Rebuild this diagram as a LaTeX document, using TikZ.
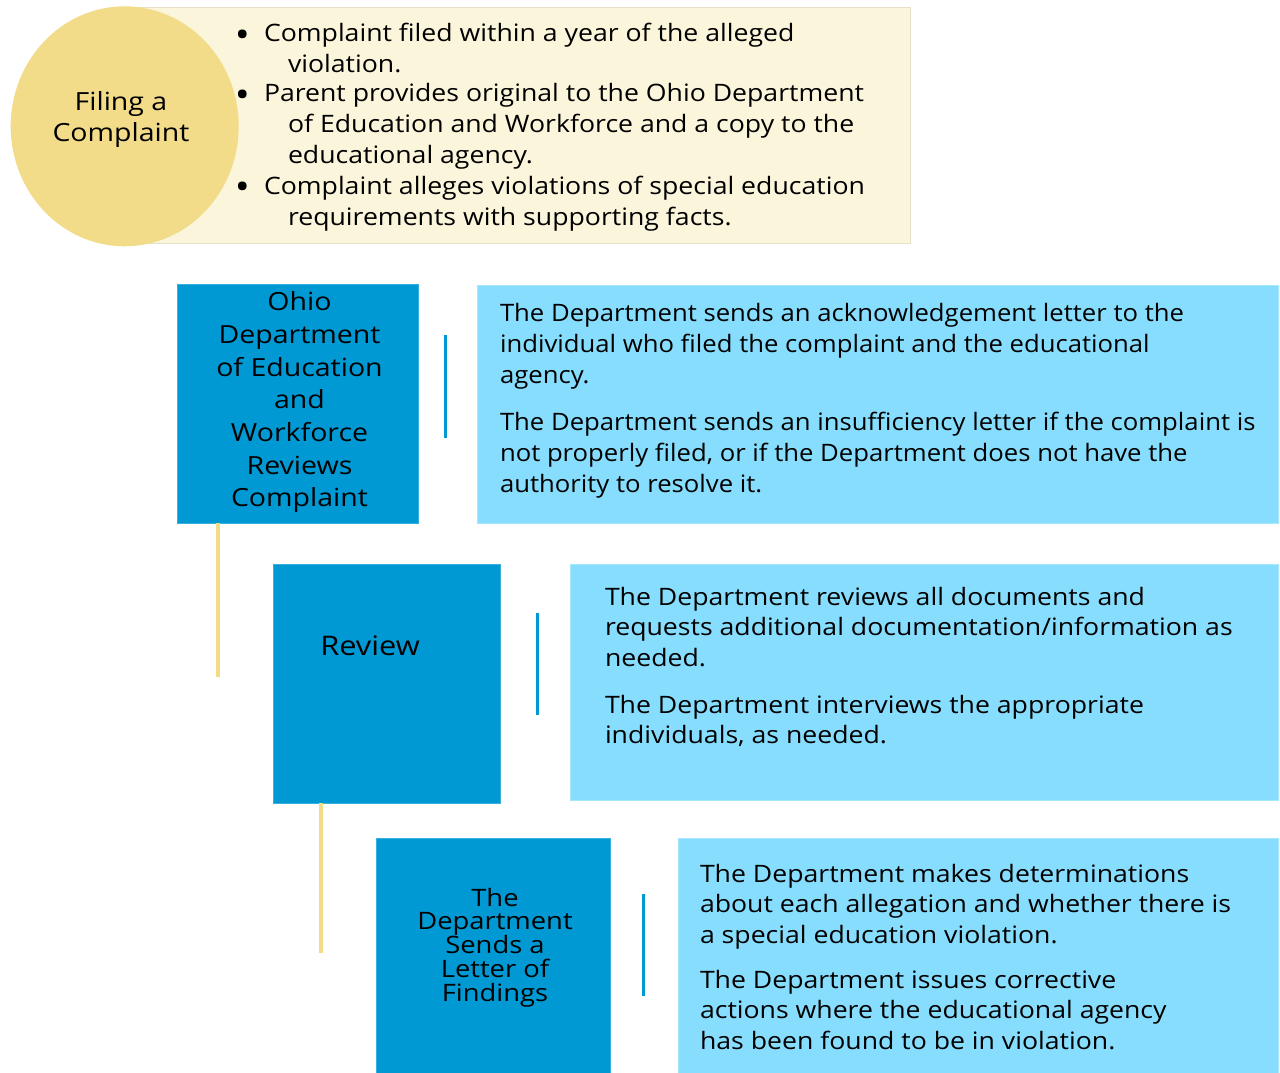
\documentclass[tikz,border=0pt]{standalone}
\usepackage{fontspec}
\setmainfont{Open Sans}
\newfontfamily\fA[FakeStretch=1.07]{Open Sans}
\newfontfamily\fB[FakeStretch=1.11]{Open Sans}
\newfontfamily\fC[FakeStretch=1.14]{Open Sans}
\usetikzlibrary{shapes.geometric}
\definecolor{cream}{HTML}{FBF5DB}
\definecolor{creamedge}{HTML}{E6E0C8}
\definecolor{gold}{HTML}{F2DC89}
\definecolor{darkblue}{HTML}{0099D4}
\definecolor{darkedge}{HTML}{3AAEDC}
\definecolor{lightblue}{HTML}{87DDFD}
\definecolor{lightedge}{HTML}{A8E6FD}
\definecolor{yline}{HTML}{F3DC86}
\newcommand{\fl}{\rule{0pt}{12pt}}
\newcommand{\ind}{\hspace*{12pt}}
\newcommand{\bul}{\makebox[0pt][r]{\raisebox{-2.8pt}{\scalebox{1.5}{•}}\hspace{7pt}}}
\lineskiplimit=-16000pt
\lineskip=0pt
\begin{document}
\begin{tikzpicture}[x=0.5pt,y=-0.5pt,
  boxbase/.style={inner sep=0pt, outer sep=0pt, anchor=north west, line width=0.5pt},
  creambox/.style={boxbase, fill=cream, draw=creamedge},
  goldcirc/.style={ellipse, inner sep=0pt, fill=gold, draw=none},
  darkbox/.style={boxbase, fill=darkblue, draw=darkedge},
  lightbox/.style={boxbase, fill=lightblue, draw=lightedge},
  para/.style={inner sep=0pt, outer sep=0pt, anchor=north west, align=left,
    font=\fontsize{12pt}{15.4pt}\fA},
  parab/.style={para, font=\fontsize{12pt}{15.3pt}\fB},
  title/.style={inner sep=0pt, outer sep=0pt, anchor=north, align=center},
  goldline/.style={draw=yline, line width=2pt},
  blueline/.style={draw=darkblue, line width=1.7pt},
]
\useasboundingbox (0,0) rectangle (1280,1072);
\fill[white] (0,0) rectangle (1280,1072);

% ---- Filing a complaint
\node[creambox, minimum width=392.5pt, minimum height=118pt] (cream) at (125,7) {};
\node[goldcirc, minimum width=114pt, minimum height=120pt] (circ) at (124.7,126.3) {};
\node[title, font=\fontsize{12.5pt}{15.85pt}\fC] (filing) at (121,86) {\fl Filing a\\Complaint};

\node[para, font=\fontsize{12pt}{15.25pt}\fB] (bul1) at (264,17.7) {\fl\bul Complaint filed within a year of the alleged\\\ind violation.};
\node[para, font=\fontsize{12pt}{15.35pt}\fB] (bul2) at (264,77.7) {\fl\bul Parent provides original to the Ohio Department\\\ind of Education and Workforce and a copy to the\\\ind educational agency.};
\node[para, font=\fontsize{12pt}{15.5pt}\fB] (bul3) at (264,170) {\fl\bul Complaint alleges violations of special education\\\ind requirements with supporting facts.};

% ---- Step 1
\node[darkbox, minimum width=120.5pt, minimum height=119.25pt] (b1) at (177,284.5) {};
\node[lightbox, minimum width=400.5pt, minimum height=119pt] (l1) at (477,285) {};
\node[title, font=\fontsize{12.5pt}{16.33pt}\fC] (b1t) at (299.5,286.7) {\fl Ohio\\Department\\of Education\\and\\Workforce\\Reviews\\Complaint};
\node[para, font=\fontsize{12pt}{15.5pt}\fA] (l1p1) at (500,297.5) {\fl The Department sends an acknowledgement letter to the\\individual who filed the complaint and the educational\\agency.};
\node[para, font=\fontsize{12pt}{15.5pt}\fA] (l1p2) at (500,406) {\fl The Department sends an insufficiency letter if the complaint is\\not properly filed, or if the Department does not have the\\authority to resolve it.};
\coordinate (v1a) at (445.3,335);
\coordinate (v1b) at (445.3,438.3);
\draw[blueline] (v1a) -- (v1b);

% ---- Step 2
\node[darkbox, minimum width=113.5pt, minimum height=119.25pt] (b2) at (273,564.5) {};
\node[lightbox, minimum width=354pt, minimum height=118pt] (l2) at (570,564) {};
\node[inner sep=0pt, anchor=base, font=\fontsize{13.5pt}{15pt}\fC] (b2t) at (370,655) {Review};
\node[parab] (l2p1) at (605,581) {\fl The Department reviews all documents and\\requests additional documentation/information as\\needed.};
\node[parab] (l2p2) at (605,689) {\fl The Department interviews the appropriate\\individuals, as needed.};
\coordinate (v2a) at (537.7,612.7);
\coordinate (v2b) at (537.7,715);
\draw[blueline] (v2a) -- (v2b);

% ---- Step 3
\node[darkbox, minimum width=117pt, minimum height=125pt] (b3) at (376,838.5) {};
\node[lightbox, minimum width=300pt, minimum height=125pt] (l3) at (678,838.5) {};
\node[title, font=\fontsize{12pt}{11.96pt}\fC] (b3t) at (495,882) {\fl The\\Department\\Sends a\\Letter of\\Findings};
\node[parab] (l3p1) at (700,858) {\fl The Department makes determinations\\about each allegation and whether there is\\a special education violation.};
\node[parab] (l3p2) at (700,964) {\fl The Department issues corrective\\actions where the educational agency\\has been found to be in violation.};
\coordinate (v3a) at (643.3,894);
\coordinate (v3b) at (643.3,996);
\draw[blueline] (v3a) -- (v3b);

% ---- connectors between steps
\coordinate (g1) at (217.7,676.7);
\draw[goldline] (b1.south -| g1) -- (g1);
\coordinate (g2) at (321,952.7);
\draw[goldline] (b2.south -| g2) -- (g2);
\end{tikzpicture}
\end{document}
